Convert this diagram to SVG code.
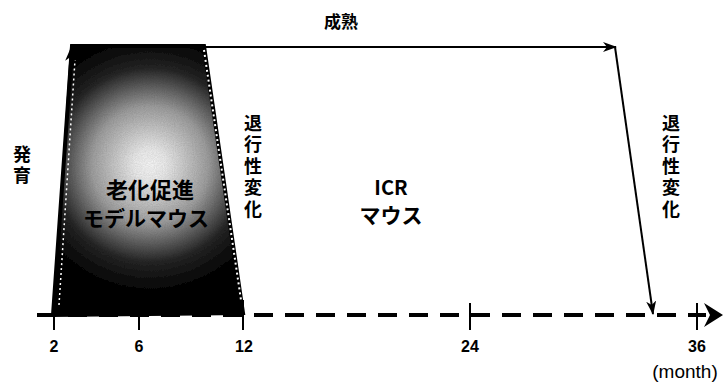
<svg xmlns="http://www.w3.org/2000/svg" width="727" height="383" viewBox="0 0 727 383">
<style>
.jp{font-family:"Noto Sans CJK JP","Noto Sans",sans-serif;font-weight:bold;fill:#000}
.vt{font-family:"Noto Sans CJK JP","Noto Sans",sans-serif;font-weight:bold;fill:#000;font-size:18px;writing-mode:tb;letter-spacing:3.5px}
.num{font-family:"Liberation Sans","Noto Sans",sans-serif;font-weight:bold;font-size:16px;fill:#000;text-anchor:middle}
.ln{stroke:#000;stroke-width:2;fill:none}
</style>
<defs>
<radialGradient id="g" gradientUnits="userSpaceOnUse" cx="150" cy="165" r="130">
<stop offset="0" stop-color="#fff"/>
<stop offset="0.12" stop-color="#f4f4f4"/>
<stop offset="0.45" stop-color="#a4a4a4"/>
<stop offset="0.75" stop-color="#262626"/>
<stop offset="1" stop-color="#000"/>
</radialGradient>
<filter id="grain" x="0" y="0" width="100%" height="100%">
<feTurbulence type="fractalNoise" baseFrequency="0.9" numOctaves="2" seed="3" result="n"/>
<feColorMatrix in="n" type="saturate" values="0" result="m"/>
<feComponentTransfer in="m" result="m2"><feFuncA type="linear" slope="0" intercept="0.35"/></feComponentTransfer>
<feComposite in="m2" in2="SourceGraphic" operator="in" result="c"/>
<feBlend in="SourceGraphic" in2="c" mode="multiply"/>
</filter>
<marker id="ah" markerWidth="14" markerHeight="10" refX="13" refY="5" orient="auto" markerUnits="userSpaceOnUse">
<path d="M0,0 L14,5 L0,10 L4,5 Z" fill="#000"/>
</marker>
</defs>
<rect width="727" height="383" fill="#fff"/>
<g id="aging-model">
<polygon points="72,46 204,46 243,313 53,315" fill="url(#g)" filter="url(#grain)"/>
<polygon points="72,46 204,46 243,313 53,315" fill="none" stroke="#000" stroke-width="4"/>
<line x1="204" y1="50" x2="241" y2="300" stroke="#fff" stroke-width="2" stroke-dasharray="2 3"/>
<line x1="59" y1="305" x2="75" y2="60" stroke="#fff" stroke-width="1.5" stroke-dasharray="2 3"/>
<text class="jp" x="150" y="198" font-size="22" text-anchor="middle">老化促進</text>
<text class="jp" x="146" y="226" font-size="21" text-anchor="middle">モデルマウス</text>
</g>
<g id="icr-mouse">
<text class="jp" x="391" y="195" font-size="20" text-anchor="middle">ICR</text>
<text class="jp" x="391" y="223" font-size="21" text-anchor="middle">マウス</text>
</g>
<g id="connectors">
<line class="ln" x1="54" y1="312" x2="71" y2="48" marker-end="url(#ah)"/>
<line class="ln" x1="71" y1="47" x2="616" y2="47" marker-end="url(#ah)"/>
<line class="ln" x1="615" y1="47" x2="653" y2="314" marker-end="url(#ah)"/>
</g>
<g id="axis">
<line x1="37" y1="315" x2="706" y2="315" stroke="#000" stroke-width="4" stroke-dasharray="19 12"/>
<path d="M704,303 L723,315 L704,327 L710,315 Z" fill="#000"/>
<g stroke="#000" stroke-width="2">
<line x1="54" y1="309" x2="54" y2="330"/>
<line x1="139" y1="309" x2="139" y2="330"/>
<line x1="243" y1="300" x2="243" y2="330"/>
<line x1="470" y1="303" x2="470" y2="330"/>
<line x1="697" y1="303" x2="697" y2="330"/>
</g>
<text class="num" x="54" y="352">2</text>
<text class="num" x="139" y="352">6</text>
<text class="num" x="244" y="352">12</text>
<text class="num" x="470" y="352">24</text>
<text class="num" x="697" y="352">36</text>
<text x="685" y="378" font-family="Liberation Sans, sans-serif" font-size="19" text-anchor="middle" fill="#000">(month)</text>
</g>
<g id="labels">
<text class="jp" x="341" y="28" font-size="17" text-anchor="middle">成熟</text>
<text class="vt" x="22" y="145">発育</text>
<text class="vt" x="253" y="114">退行性変化</text>
<text class="vt" x="671" y="114">退行性変化</text>
</g>
</svg>
